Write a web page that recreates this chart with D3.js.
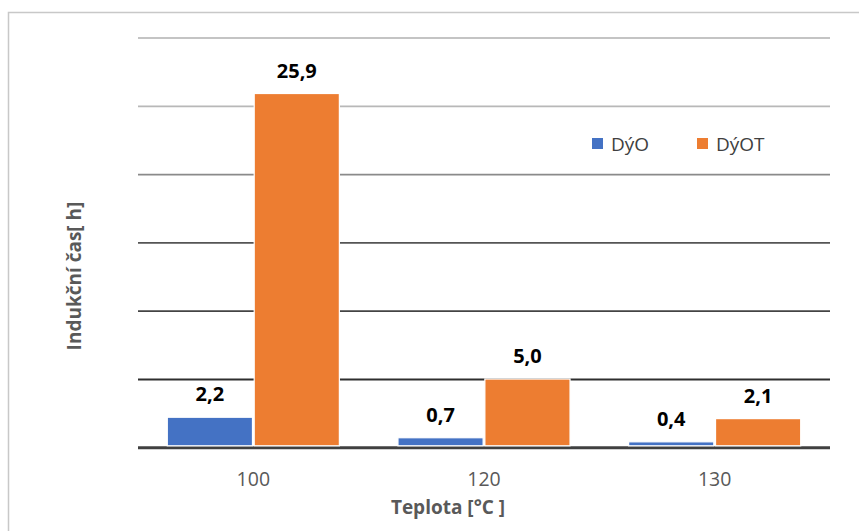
<!DOCTYPE html>
<html><head><meta charset="utf-8">
<script src="https://cdn.jsdelivr.net/npm/d3@7"></script>
<style>body{margin:0;background:#fff}svg{display:block;font-family:"Open Sans",sans-serif}</style>
</head><body><svg id="c" width="859" height="531"></svg>
<script>
const categories = ["100", "120", "130"];
const seriesNames = ["DýO", "DýOT"];
const dyo = [2.2, 0.7, 0.4];
const dyot = [25.9, 5.0, 2.1];
const yTicks = [0, 5, 10, 15, 20, 25, 30];

const colors = {"DýO": "#4472C4", "DýOT": "#ED7D31"};
const gridColors = ["#404040", "#2e2e2e", "#444", "#555", "#8a8a8a", "#b8b8b8", "#c4c4c4"];
const svg = d3.select("#c");
const m = {left: 138, right: 29, top: 37.5, bottom: 83.7};
const W = 859, H = 531;

// outer chart border
svg.append("rect").attr("x", 8.5).attr("y", 12.5).attr("width", 900).attr("height", 600)
  .attr("fill", "none").attr("stroke", "#c8c8c8").attr("stroke-width", 1.5);

const x0 = d3.scaleBand().domain(categories).range([m.left, W - m.right]).padding(0);
const bw = x0.bandwidth();
const x1 = d3.scaleBand().domain(seriesNames).range([bw * 0.127, bw * 0.873]).paddingInner(0.02);
const y = d3.scaleLinear().domain([0, 30]).range([H - m.bottom, m.top]);

// gridlines
const grid = svg.append("g").attr("transform", `translate(${m.left},0)`)
  .call(d3.axisLeft(y).tickValues(yTicks).tickSize(-(W - m.right - m.left)).tickFormat(""));
grid.select(".domain").remove();
grid.selectAll(".tick line").attr("stroke", (d, i) => gridColors[i])
  .attr("stroke-width", d => d === 0 ? 3 : 1.8);

const data = categories.map((c, i) => ({cat: c, vals: [{s: "DýO", v: dyo[i]}, {s: "DýOT", v: dyot[i]}]}));
const groups = svg.append("g").selectAll("g").data(data).join("g")
  .attr("transform", d => `translate(${x0(d.cat)},0)`);
groups.selectAll("rect").data(d => d.vals).join("rect")
  .attr("x", d => x1(d.s)).attr("width", x1.bandwidth())
  .attr("y", d => y(d.v)).attr("height", d => y(0) - 1.5 - y(d.v))
  .attr("fill", d => colors[d.s]).attr("stroke", "#fff").attr("stroke-width", 1.2);
groups.selectAll("text").data(d => d.vals).join("text")
  .attr("x", d => x1(d.s) + x1.bandwidth() / 2).attr("y", d => y(d.v) - 16)
  .attr("text-anchor", "middle").attr("font-weight", 700).attr("font-size", 20).attr("fill", "#000")
  .text(d => d3.format(".1f")(d.v).replace(".", ","));

// x axis labels
const xa = svg.append("g").attr("transform", `translate(0,${H - m.bottom})`)
  .call(d3.axisBottom(x0).tickSize(0).tickPadding(0));
xa.select(".domain").remove();
xa.selectAll("text").attr("font-family", "Open Sans").attr("font-size", 19.5).attr("fill", "#595959")
  .attr("dy", 0).attr("y", 39);

// axis titles
svg.append("text").attr("x", 448).attr("y", 514).attr("text-anchor", "middle")
  .attr("font-weight", 700).attr("font-size", 19).attr("fill", "#595959").text("Teplota [°C ]");
svg.append("text").attr("transform", "translate(81,276) rotate(-90)").attr("text-anchor", "middle")
  .attr("font-weight", 700).attr("font-size", 19).attr("fill", "#595959").text("Indukční čas[ h]");

// legend
const legX = [592, 697];
const leg = svg.append("g").selectAll("g").data(seriesNames).join("g")
  .attr("transform", (d, i) => `translate(${legX[i]},138)`);
leg.append("rect").attr("width", 11).attr("height", 11).attr("fill", d => colors[d]);
leg.append("text").attr("x", 19).attr("y", 12.5).attr("font-size", 19).attr("fill", "#404040").text(d => d);
</script></body></html>
